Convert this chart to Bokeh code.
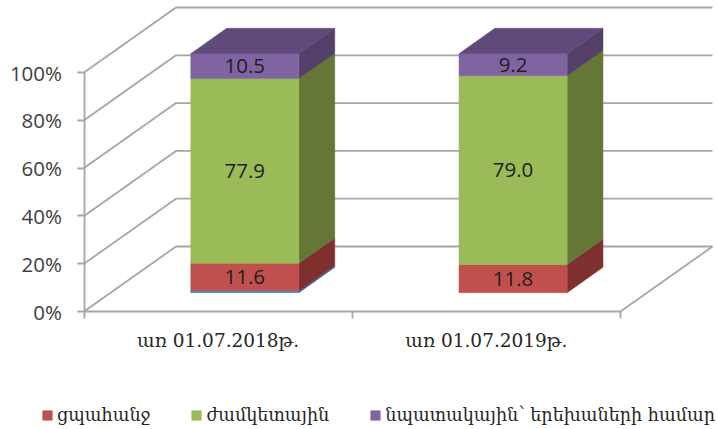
from bokeh.plotting import figure
from bokeh.models import FixedTicker, Legend, LegendItem, Range1d
from bokeh.core.properties import value
from bokeh.embed import file_html
from bokeh.resources import INLINE

categories = ["առ 01.07.2018թ.", "առ 01.07.2019թ."]
series_names = ["", "ցպահանջ", "ժամկետային", "նպատակային՝ երեխաների համար"]
blue_values = [0.8, 0.0]
red_values = [11.6, 11.8]
green_values = [77.9, 79.0]
purple_values = [10.5, 9.2]
y_ticks = [0, 20, 40, 60, 80, 100]

front_colors = ["#4F81BD", "#C0504D", "#9BBB59", "#8064A2"]
side_colors = ["#3A6192", "#7F302E", "#647734", "#533F67"]
top_color = "#604A7B"
grid_color = "#A6A6A6"

# oblique projection of the 3-D box: depth 0 = front plane, 1 = back wall
DX, DY = 0.343, 27.2
BAR_W, D0, D1 = 0.403, 0.29, 0.68


def proj(x, y, d):
    return x + d * DX, y + d * DY


p = figure(width=717, height=429, output_backend="svg", toolbar_location=None,
           x_range=Range1d(-0.3113, 2.3616), y_range=Range1d(-49.37, 130.13),
           min_border_left=0, min_border_right=0, min_border_top=0, min_border_bottom=0,
           outline_line_color=None, background_fill_color=None, border_fill_color="white")
p.grid.visible = False

# walls
for t in y_ticks:
    bx, by = proj(0, t, 1)
    ex, ey = proj(2, t, 1)
    p.line([0, bx, ex], [t, by, ey], line_color=grid_color, line_width=1.8)
rx, ry = proj(2, 0, 1)
p.line([2, rx], [0, ry], line_color=grid_color, line_width=1.8)

series = [blue_values, red_values, green_values, purple_values]
legend_renderers = {}
for i, cat in enumerate(categories):
    cx = i + 0.5
    l, r = cx - BAR_W / 2, cx + BAR_W / 2
    total = sum(s[i] for s in series)
    base = 0.0
    for k, s in enumerate(series):
        v = s[i] / total * 100
        if v <= 0:
            continue
        top = base + v
        fx = [proj(a, b, D0)[0] for a, b in [(l, base), (r, base), (r, top), (l, top)]]
        fy = [proj(a, b, D0)[1] for a, b in [(l, base), (r, base), (r, top), (l, top)]]
        sx = [proj(a, b, d)[0] for a, b, d in [(r, base, D0), (r, base, D1), (r, top, D1), (r, top, D0)]]
        sy = [proj(a, b, d)[1] for a, b, d in [(r, base, D0), (r, base, D1), (r, top, D1), (r, top, D0)]]
        p.patch(sx, sy, fill_color=side_colors[k], line_color=side_colors[k], line_width=0.5)
        rend = p.patch(fx, fy, fill_color=front_colors[k], line_color=front_colors[k], line_width=0.5)
        legend_renderers.setdefault(k, rend)
        if k == 3:
            tx = [proj(a, top, d)[0] for a, d in [(l, D0), (r, D0), (r, D1), (l, D1)]]
            ty = [proj(a, top, d)[1] for a, d in [(l, D0), (r, D0), (r, D1), (l, D1)]]
            p.patch(tx, ty, fill_color=top_color, line_color=top_color, line_width=0.5)
        if k > 0:
            lx, ly = proj(cx, base + v / 2, D0)
            p.text([lx], [ly], text=[f"{s[i]:.1f}"], text_align="center", text_baseline="middle",
                   text_font=value("Open Sans"), text_font_size="20.5px", text_color="#1f1f1f")
        base = top

ax = p.yaxis[0]
ax.fixed_location = 0
ax.ticker = FixedTicker(ticks=y_ticks)
ax.major_label_overrides = {t: f"{t}%" for t in y_ticks}
ax.bounds = (0, 100)
ax.axis_line_color = grid_color
ax.axis_line_width = 1.8
ax.major_tick_line_color = grid_color
ax.major_tick_line_width = 1.8
ax.major_tick_in = 0
ax.major_tick_out = 7
ax.minor_tick_line_color = None
ax.major_label_text_font = "Open Sans"
ax.major_label_text_font_size = "20.5px"
ax.major_label_text_color = "#404040"
ax.major_label_standoff = 15

bx = p.xaxis[0]
bx.fixed_location = 0
bx.ticker = FixedTicker(ticks=[0.5, 1.5], minor_ticks=[0, 1, 2])
bx.major_label_overrides = {0.5: categories[0], 1.5: categories[1]}
bx.bounds = (0, 2)
bx.axis_line_color = grid_color
bx.axis_line_width = 1.8
bx.major_tick_line_color = None
bx.minor_tick_line_color = grid_color
bx.minor_tick_line_width = 1.8
bx.minor_tick_in = 0
bx.minor_tick_out = 7
bx.major_label_text_font = "DejaVu Serif"
bx.major_label_text_font_size = "18.5px"
bx.major_label_text_color = "#262626"
bx.major_label_standoff = 11

legend = Legend(items=[LegendItem(label=series_names[k], renderers=[legend_renderers[k]]) for k in (1, 2, 3)],
                orientation="horizontal", location=(41, 4), spacing=40, padding=0, margin=0,
                glyph_width=12, glyph_height=12, label_standoff=4,
                label_text_font="DejaVu Serif", label_text_font_size="17.6px", label_text_color="#262626",
                border_line_color=None, background_fill_color=None, background_fill_alpha=0)
p.add_layout(legend)

open("out.html", "w").write(file_html(p, INLINE))
